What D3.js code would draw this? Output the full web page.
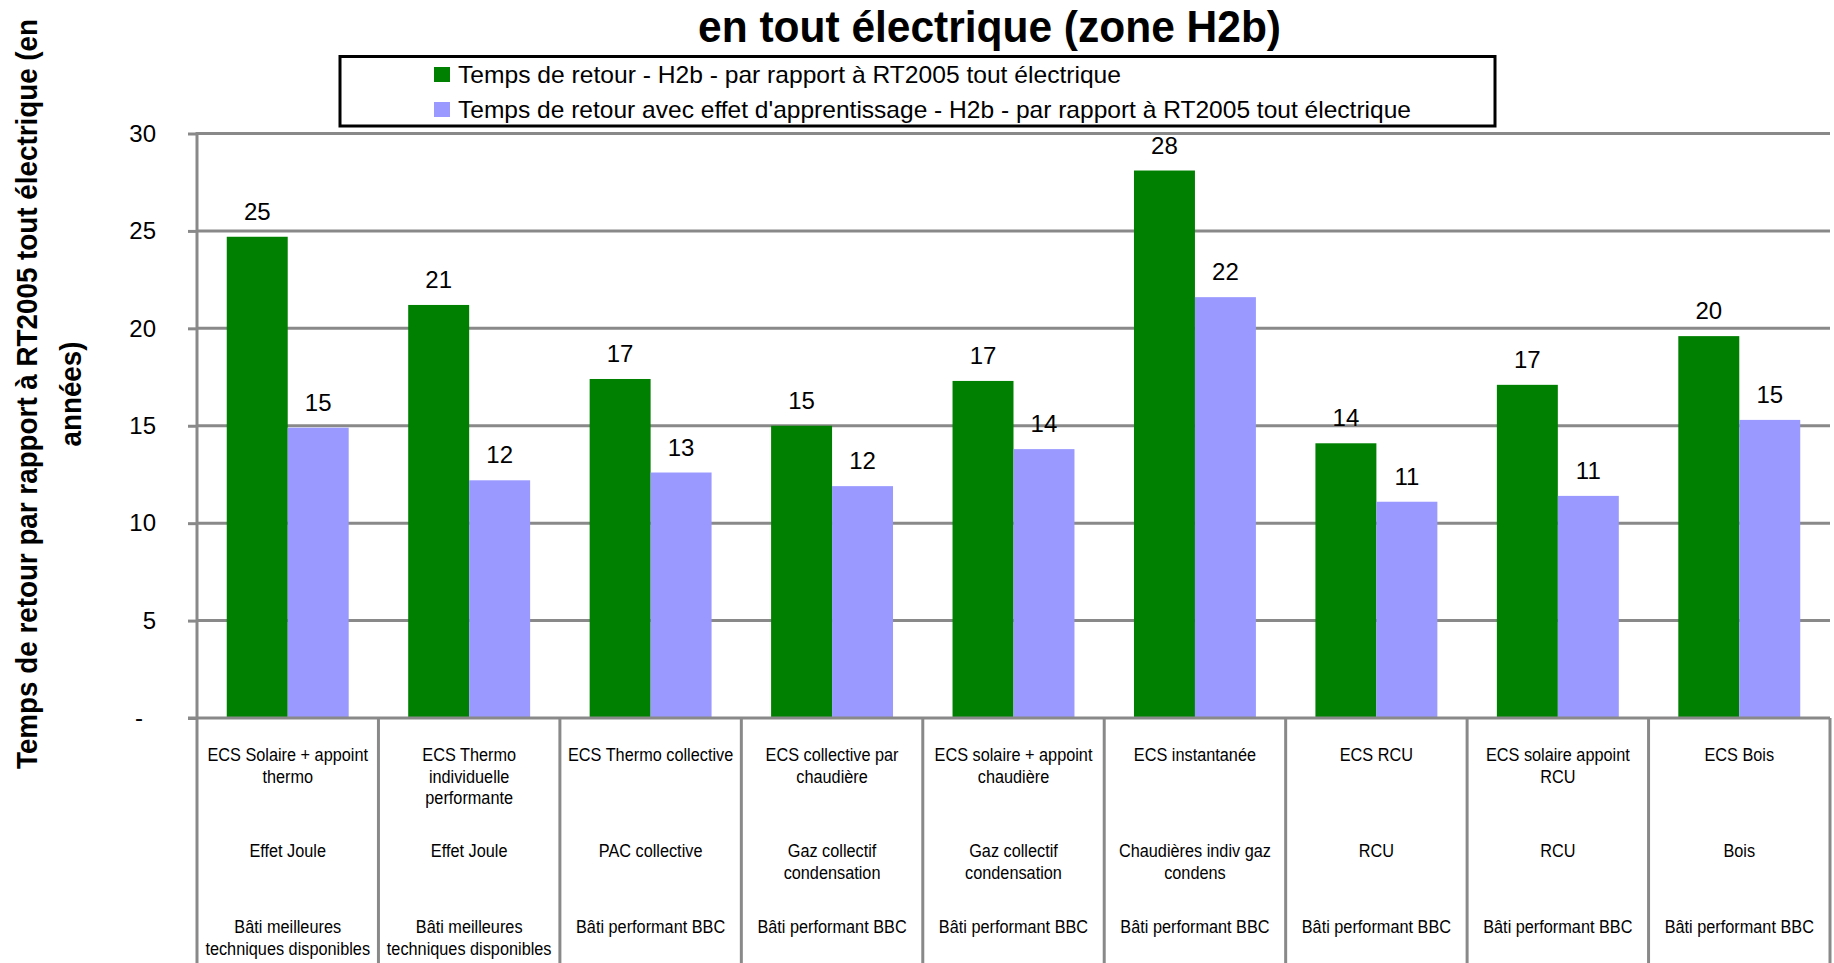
<!DOCTYPE html>
<html>
<head>
<meta charset="utf-8">
<script src="https://cdn.jsdelivr.net/npm/d3@7"></script>
<style>
  html, body { margin: 0; padding: 0; background: #ffffff; }
  svg { display: block; }
  text { font-family: "Liberation Sans", Arial, sans-serif; }
</style>
</head>
<body>
<svg id="chart" width="1834" height="963"></svg>
<script>
// ---------- DATA ----------
const titleText = "en tout électrique (zone H2b)";
const yAxisTitleLines = ["Temps de retour par rapport à RT2005 tout électrique (en", "années)"];
const seriesNames = [
  "Temps de retour - H2b - par rapport à RT2005 tout électrique",
  "Temps de retour avec effet d'apprentissage - H2b - par rapport à RT2005 tout électrique"
];
const categoriesECS = [
  "ECS Solaire + appoint\nthermo",
  "ECS Thermo\nindividuelle\nperformante",
  "ECS Thermo collective",
  "ECS collective par\nchaudière",
  "ECS solaire + appoint\nchaudière",
  "ECS instantanée",
  "ECS RCU",
  "ECS solaire appoint\nRCU",
  "ECS Bois"
];
const categoriesSysteme = [
  "Effet Joule",
  "Effet Joule",
  "PAC collective",
  "Gaz collectif\ncondensation",
  "Gaz collectif\ncondensation",
  "Chaudières indiv gaz\ncondens",
  "RCU",
  "RCU",
  "Bois"
];
const categoriesBati = [
  "Bâti meilleures\ntechniques disponibles",
  "Bâti meilleures\ntechniques disponibles",
  "Bâti performant  BBC",
  "Bâti performant  BBC",
  "Bâti performant  BBC",
  "Bâti performant  BBC",
  "Bâti performant  BBC",
  "Bâti performant  BBC",
  "Bâti performant  BBC"
];
const valuesRT2005 = [24.7, 21.2, 17.4, 15.0, 17.3, 28.1, 14.1, 17.1, 19.6];
const valuesApprentissage = [14.9, 12.2, 12.6, 11.9, 13.8, 21.6, 11.1, 11.4, 15.3];
const yTicks = [0, 5, 10, 15, 20, 25, 30];
const seriesColors = ["#008000", "#9999FF"];

// ---------- LAYOUT ----------
const W = 1834, H = 963;
const plotLeft = 197, plotRight = 1830, plotTop = 133.5, plotBottom = 718;
const gridColor = "#898989";

const svg = d3.select("#chart");

const idx = d3.range(categoriesECS.length);
const x = d3.scaleBand().domain(idx).range([plotLeft, plotRight]).padding(0);
const xs = d3.scaleBand().domain([0, 1])
  .range([x.bandwidth() * 0.164, x.bandwidth() * 0.836]).padding(0);
const y = d3.scaleLinear().domain([0, 30]).range([plotBottom, plotTop]);

// gridlines
svg.append("g").selectAll("line").data(yTicks.filter(d => d > 0)).join("line")
  .attr("x1", plotLeft).attr("x2", plotRight)
  .attr("y1", d => y(d)).attr("y2", d => y(d))
  .attr("stroke", gridColor).attr("stroke-width", 3);

// y axis (ticks + labels)
const yAxis = d3.axisLeft(y).tickValues(yTicks).tickSize(9).tickPadding(32)
  .tickFormat(d => d === 0 ? "-" : d3.format("d")(d));
const gy = svg.append("g").attr("transform", `translate(${plotLeft},0)`).call(yAxis);
gy.select(".domain").remove();
gy.selectAll(".tick line").attr("stroke", gridColor).attr("stroke-width", 3);
gy.selectAll(".tick text").attr("fill", "#000").style("font-size", "24px")
  .attr("dx", d => d === 0 ? -13 : 0);

// bars
const series = [valuesRT2005, valuesApprentissage];
const groups = svg.append("g").selectAll("g").data(idx).join("g")
  .attr("transform", i => `translate(${x(i)},0)`);
groups.selectAll("rect").data(i => series.map((s, k) => ({k, v: s[i]}))).join("rect")
  .attr("x", d => xs(d.k)).attr("width", xs.bandwidth())
  .attr("y", d => y(d.v)).attr("height", d => y(0) - y(d.v))
  .attr("fill", d => seriesColors[d.k]);
groups.selectAll("text.val").data(i => series.map((s, k) => ({k, v: s[i]}))).join("text")
  .attr("class", "val")
  .attr("x", d => xs(d.k) + xs.bandwidth() / 2)
  .attr("y", d => y(d.v) - 17)
  .attr("text-anchor", "middle").style("font-size", "24px").attr("fill", "#000")
  .text(d => d3.format(".0f")(d.v));

// axis lines
svg.append("line").attr("x1", plotLeft).attr("x2", plotLeft)
  .attr("y1", plotTop - 1.5).attr("y2", H)
  .attr("stroke", gridColor).attr("stroke-width", 3);
svg.append("line").attr("x1", plotLeft - 9).attr("x2", plotRight)
  .attr("y1", plotBottom).attr("y2", plotBottom)
  .attr("stroke", gridColor).attr("stroke-width", 3);
// category separators
svg.append("g").selectAll("line").data(idx.map(i => i + 1)).join("line")
  .attr("x1", i => x(i) !== undefined ? x(i) : plotRight)
  .attr("x2", i => x(i) !== undefined ? x(i) : plotRight)
  .attr("y1", plotBottom).attr("y2", H)
  .attr("stroke", gridColor).attr("stroke-width", 3);

// multi-level category labels (slightly condensed like the original)
const rows = [
  {data: categoriesECS, y0: 761},
  {data: categoriesSysteme, y0: 857},
  {data: categoriesBati, y0: 933}
];
const lineH = 21.5;
const condense = 0.93;
rows.forEach(r => {
  const items = [];
  idx.forEach(i => r.data[i].split("\n").forEach((ln, j) => items.push({i, j, ln})));
  svg.append("g").selectAll("text").data(items).join("text")
    .attr("x", d => x(d.i) + x.bandwidth() / 2)
    .attr("y", d => r.y0 + d.j * lineH)
    .attr("text-anchor", "middle").style("font-size", "17.5px").attr("fill", "#000")
    .text(d => d.ln)
    .each(function() {
      const len = this.getComputedTextLength();
      d3.select(this).attr("textLength", len * condense).attr("lengthAdjust", "spacingAndGlyphs");
    });
});

// title
svg.append("text").attr("x", 989.5).attr("y", 42).attr("text-anchor", "middle")
  .style("font-size", "44px").style("font-weight", "bold").attr("fill", "#000")
  .attr("textLength", 583).attr("lengthAdjust", "spacingAndGlyphs")
  .text(titleText);

// y axis title
const yt = svg.append("g").attr("transform", "translate(0,394) rotate(-90)");
yt.append("text").attr("x", 0).attr("y", 37).attr("text-anchor", "middle")
  .style("font-size", "29px").style("font-weight", "bold").attr("fill", "#000")
  .attr("textLength", 750).attr("lengthAdjust", "spacingAndGlyphs")
  .text(yAxisTitleLines[0]);
yt.append("text").attr("x", 0).attr("y", 81).attr("text-anchor", "middle")
  .style("font-size", "29px").style("font-weight", "bold").attr("fill", "#000")
  .attr("textLength", 105).attr("lengthAdjust", "spacingAndGlyphs")
  .text(yAxisTitleLines[1]);

// legend
const lg = svg.append("g");
lg.append("rect").attr("x", 340).attr("y", 56.5).attr("width", 1155).attr("height", 69.5)
  .attr("fill", "#fff").attr("stroke", "#000").attr("stroke-width", 3);
const legendLengths = [663, 953];
seriesNames.forEach((name, k) => {
  const yy = 83 + k * 35;
  lg.append("rect").attr("x", 434).attr("y", yy - 16).attr("width", 16).attr("height", 15)
    .attr("fill", seriesColors[k]);
  lg.append("text").attr("x", 458).attr("y", yy)
    .style("font-size", "24px").attr("fill", "#000")
    .attr("textLength", legendLengths[k]).attr("lengthAdjust", "spacingAndGlyphs")
    .text(name);
});
</script>
</body>
</html>
